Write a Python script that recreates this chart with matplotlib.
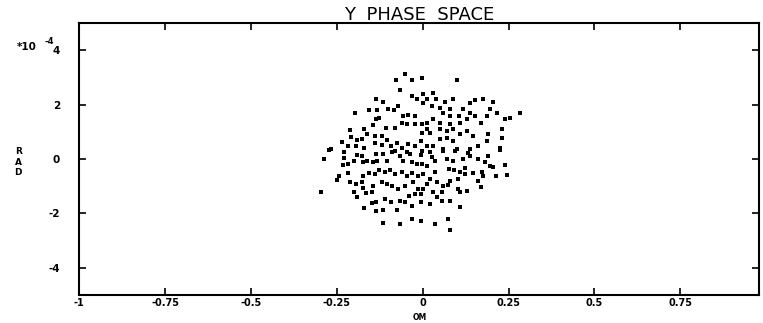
import matplotlib
matplotlib.use("Agg")
import matplotlib.pyplot as plt

# phase space points (x in OM, y in units of 1e-4 RAD)
x_om = [
    -0.053, -0.079, -0.032, -0.003, -0.067, -0.032, -0.018, 0.000, -0.137, -0.117,
    -0.196, -0.155, -0.132, -0.102, -0.085, -0.073, -0.058, -0.044, -0.023, -0.135,
    -0.126, -0.108, -0.082, -0.061, -0.047, -0.023, -0.003, -0.146, -0.170, -0.211,
    -0.161, -0.140, -0.120, -0.178, -0.190, -0.105, -0.208, -0.234, -0.219, -0.193,
    -0.170, -0.140, -0.120, -0.091, -0.076, -0.061, -0.044, -0.023, -0.006, -0.266,
    -0.228, -0.082, -0.047, -0.003,
    0.099, 0.029, 0.012, 0.038, 0.064, 0.088, 0.000, 0.026, 0.050, 0.079,
    0.117, 0.137, 0.152, 0.175, 0.205, 0.196, 0.216, 0.187, 0.170, 0.137,
    0.105, 0.079, 0.058, 0.029, 0.012, 0.050, 0.079, 0.108, 0.129, 0.152,
    0.240, 0.254, 0.284, 0.231, 0.231, 0.225, 0.190, 0.187, 0.161, 0.146,
    0.129, 0.108, 0.088, 0.070, 0.050, 0.029, 0.012, -0.003, 0.020, 0.050,
    0.070, 0.088, 0.099, 0.058, 0.137, 0.012,
    -0.287, -0.295, -0.272, -0.228, -0.219, -0.231, -0.199, -0.190, -0.175, -0.161,
    -0.146, -0.132, -0.178, -0.135, -0.117, -0.088, -0.067, -0.038, -0.006, -0.105,
    -0.058, -0.032, -0.018, -0.003, -0.243, -0.219, -0.249, -0.211, -0.193, -0.175,
    -0.178, -0.155, -0.140, -0.126, -0.111, -0.096, -0.082, -0.061, -0.047, -0.032,
    -0.015, 0.000, -0.120, -0.105, -0.088, -0.073, -0.053, -0.029, -0.015, 0.000,
    -0.199, -0.175, -0.164, -0.149, -0.146, -0.190, -0.135, -0.149, -0.111, -0.091,
    -0.067, -0.053, -0.041, -0.023, -0.006, -0.170, -0.135, -0.117, -0.076, -0.032,
    -0.006, -0.117, -0.067, -0.032, -0.006,
    0.020, 0.058, 0.094, 0.132, 0.137, 0.225, 0.026, 0.035, 0.070, 0.088,
    0.117, 0.161, 0.190, 0.181, 0.196, 0.205, 0.240, 0.012, 0.035, 0.076,
    0.091, 0.108, 0.123, 0.123, 0.146, 0.173, 0.175, 0.213, 0.246, 0.161,
    0.020, 0.041, 0.079, 0.102, 0.012, 0.058, 0.073, 0.029, 0.056, 0.102,
    0.108, 0.129, 0.170, 0.041, 0.056, 0.079, 0.020, 0.108, 0.073, 0.035,
    0.079,
]
y_rad = [
    3.11, 2.89, 2.89, 2.96, 2.52, 2.33, 2.22, 2.37, 2.19, 2.11,
    1.70, 1.81, 1.81, 1.85, 1.81, 1.93, 1.59, 1.63, 1.59, 1.48,
    1.52, 1.15, 1.15, 1.33, 1.30, 1.30, 1.30, 1.26, 1.11, 1.07,
    0.93, 0.85, 0.85, 0.74, 0.70, 0.70, 0.81, 0.63, 0.48, 0.48,
    0.41, 0.59, 0.52, 0.48, 0.59, 0.41, 0.56, 0.48, 0.67, 0.37,
    0.26, 0.30, 0.26, 0.30,
    2.89, 2.44, 2.22, 2.19, 2.11, 2.22, 2.04, 1.96, 1.89, 1.85,
    1.85, 2.04, 2.15, 2.22, 2.11, 1.85, 1.70, 1.56, 1.33, 1.67,
    1.59, 1.59, 1.67, 1.48, 1.33, 1.33, 1.30, 1.33, 1.48, 1.59,
    1.48, 1.52, 1.70, 1.11, 0.78, 0.41, 0.93, 0.67, 0.48, 0.85,
    1.04, 0.93, 0.67, 0.78, 0.74, 0.48, 1.11, 0.96, 0.96, 1.11,
    1.04, 1.11, 0.37, 0.37, 0.37, 0.48,
    0.00, -1.22, 0.33, 0.04, -0.19, -0.22, -0.07, 0.15, -0.11, -0.07,
    -0.11, -0.07, 0.11, 0.19, 0.19, 0.26, 0.11, 0.19, 0.15, -0.07,
    -0.07, -0.11, -0.19, -0.19, -0.63, -0.52, -0.78, -0.85, -0.93, -0.63,
    -0.85, -0.52, -0.56, -0.41, -0.48, -0.41, -0.56, -0.48, -0.63, -0.52,
    -0.63, -0.56, -0.85, -0.93, -1.00, -1.11, -1.00, -0.85, -1.11, -1.11,
    -1.22, -1.07, -1.26, -1.22, -1.00, -1.41, -1.59, -1.63, -1.48, -1.59,
    -1.56, -1.59, -1.37, -1.30, -1.30, -1.81, -1.93, -1.89, -1.89, -1.74,
    -1.59, -2.37, -2.41, -2.22, -2.30,
    0.26, 0.30, 0.30, 0.22, 0.11, 0.33, 0.07, -0.07, 0.00, -0.07,
    0.00, 0.00, 0.11, -0.11, -0.26, -0.30, -0.22, -0.26, -0.48, -0.37,
    -0.41, -0.48, -0.33, -0.56, -0.52, -0.48, -0.63, -0.63, -0.59, -0.81,
    -0.74, -0.85, -0.81, -0.74, -0.93, -1.00, -0.96, -1.22, -1.22, -1.11,
    -1.22, -1.19, -1.04, -1.41, -1.56, -1.56, -1.67, -1.78, -2.22, -2.41,
    -2.63,
]

x_ticks = [-1, -0.75, -0.5, -0.25, 0, 0.25, 0.5, 0.75]
x_tick_labels = ["-1", "-0.75", "-0.5", "-0.25", "0", "0.25", "0.5", "0.75"]
y_ticks = [-4, -2, 0, 2, 4]
y_tick_labels = ["-4", "-2", "0", "2", "4"]

fig = plt.figure(figsize=(7.63, 3.23), dpi=100)
ax = fig.add_axes([0.104, 0.087, 0.891, 0.842])

ax.scatter(x_om, y_rad, s=6, marker="s", color="black", linewidths=0)

ax.set_xlim(-1, 0.98)
ax.set_ylim(-5, 5)

ax.set_xticks(x_ticks)
ax.set_xticklabels(x_tick_labels, fontsize=7, fontweight="bold")
ax.set_yticks(y_ticks)
ax.set_yticklabels(y_tick_labels, fontsize=7.5, fontweight="bold")
ax.tick_params(direction="in", length=5, width=1.2, top=True, right=True)
ax.tick_params(axis="x", pad=2)
ax.tick_params(axis="y", pad=14)
for s in ax.spines.values():
    s.set_linewidth(1.5)

ax.set_title("Y  PHASE  SPACE", fontsize=13, pad=2)
ax.text(0.5, -0.083, "OM", transform=ax.transAxes, ha="center", va="center",
        fontsize=5.5, fontweight="bold")
fig.text(0.024, 0.498, "R\nA\nD", ha="center", va="center", fontsize=6.5,
         fontweight="bold", linespacing=1.2)
fig.text(0.022, 0.855, "*10", ha="left", va="center", fontsize=7.5, fontweight="bold")
fig.text(0.058, 0.872, "-4", ha="left", va="center", fontsize=6, fontweight="bold")

fig.savefig("out.png", dpi=100)
